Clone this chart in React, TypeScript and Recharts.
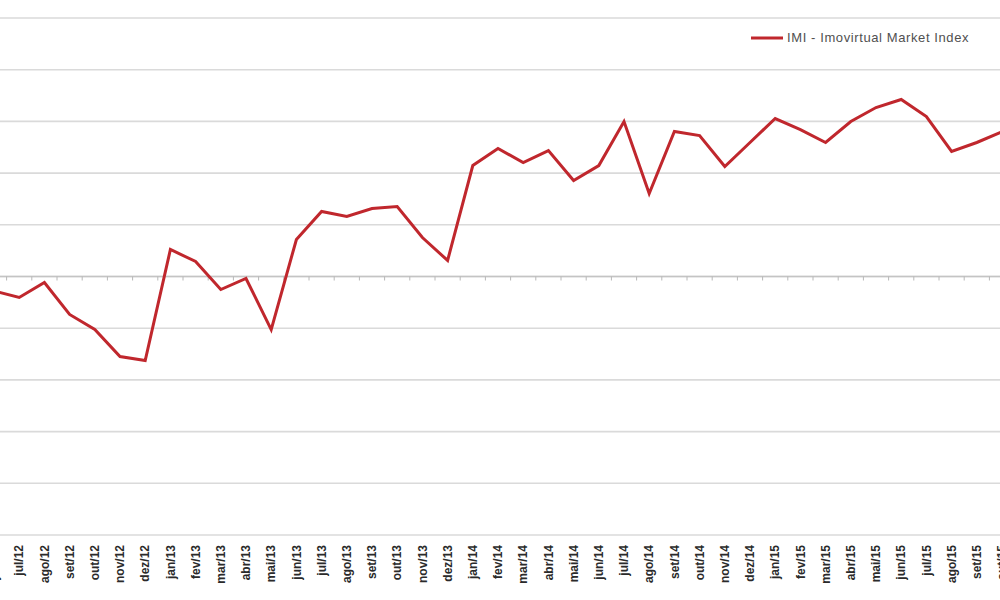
import React from 'react';
import { LineChart, Line, XAxis, YAxis, CartesianGrid, ReferenceLine, Legend } from 'recharts';

const months = [
  'jun/12', 'jul/12', 'ago/12', 'set/12', 'out/12', 'nov/12', 'dez/12',
  'jan/13', 'fev/13', 'mar/13', 'abr/13', 'mai/13', 'jun/13', 'jul/13', 'ago/13', 'set/13', 'out/13', 'nov/13', 'dez/13',
  'jan/14', 'fev/14', 'mar/14', 'abr/14', 'mai/14', 'jun/14', 'jul/14', 'ago/14', 'set/14', 'out/14', 'nov/14', 'dez/14',
  'jan/15', 'fev/15', 'mar/15', 'abr/15', 'mai/15', 'jun/15', 'jul/15', 'ago/15', 'set/15', 'out/15',
];

const imiValues = [
  98.6, 97.97, 99.42, 96.33, 94.87, 92.26, 91.88,
  102.61, 101.45, 98.74, 99.81, 94.87, 103.58, 106.29, 105.8, 106.58, 106.77, 103.77, 101.55,
  110.73, 112.38, 111.02, 112.18, 109.28, 110.73, 114.99, 108.03, 114.02, 113.63, 110.64, 112.96,
  115.28, 114.21, 112.96, 114.99, 116.34, 117.12, 115.47, 112.09, 112.96, 114.0,
];

const yTicks = [75, 80, 85, 90, 95, 100, 105, 110, 115, 120, 125];
const seriesName = 'IMI - Imovirtual Market Index';
const baseValue = 100;

const data = months.map((m, i) => ({ month: m, imi: imiValues[i] }));

const MonthTick = (props: any) => {
  const { x, y, payload } = props;
  return (
    <text
      x={x}
      y={y}
      transform={`rotate(-90, ${x}, ${y})`}
      textAnchor="end"
      dy="0.35em"
      fontFamily="'Liberation Sans', Arial, sans-serif"
      fontWeight="bold"
      fontSize={12}
      fill="#2a2a2a"
    >
      {payload.value}
    </text>
  );
};

const AxisWithTicks = (props: any) => {
  const { x1, y1, x2, y2 } = props;
  const n = months.length - 1;
  const step = (x2 - x1) / n;
  const marks = [];
  for (let i = 0; i < n; i++) {
    const x = x1 + step * (i + 0.5);
    marks.push(<line key={i} x1={x} x2={x} y1={y1} y2={y1 + 4} stroke="#b8b8b8" strokeWidth={1} />);
  }
  return (
    <g>
      <line x1={x1} y1={y1} x2={x2} y2={y2} stroke="#c4c4c4" strokeWidth={1.5} />
      {marks}
    </g>
  );
};

const LegendContent = () => (
  <div style={{ display: 'flex', alignItems: 'center', fontFamily: "'Liberation Sans', Arial, sans-serif", fontSize: 13, letterSpacing: 0.6, color: '#505050', whiteSpace: 'nowrap' }}>
    <svg width={32} height={10} style={{ marginRight: 4 }}>
      <line x1={0} y1={5} x2={32} y2={5} stroke="#c0272d" strokeWidth={3} />
    </svg>
    <span>{seriesName}</span>
  </div>
);

export default function App() {
  return (
    <div style={{ position: 'absolute', left: 0, top: 0, width: 1000, height: 600, overflow: 'hidden', background: '#ffffff' }}>
      <div style={{ position: 'absolute', left: -26, top: 0 }}>
        <LineChart width={1048} height={600} data={data} margin={{ top: 18, right: 20, left: 20, bottom: 5 }}>
          <CartesianGrid horizontal vertical={false} stroke="#dadada" strokeWidth={1.6} />
          <XAxis
            dataKey="month"
            axisLine={false}
            tickLine={false}
            interval={0}
            height={60}
            tickMargin={4}
            tick={<MonthTick />}
          />
          <YAxis hide domain={[75, 125]} ticks={yTicks} />
          <ReferenceLine y={baseValue} shape={<AxisWithTicks />} />
          <Legend
            verticalAlign="middle"
            align="center"
            content={<LegendContent />}
            wrapperStyle={{ position: 'absolute', top: 30, left: 777, right: 'auto', width: 260 }}
          />
          <Line
            type="linear"
            dataKey="imi"
            name={seriesName}
            stroke="#c0272d"
            strokeWidth={3}
            dot={false}
            isAnimationActive={false}
          />
        </LineChart>
      </div>
    </div>
  );
}
